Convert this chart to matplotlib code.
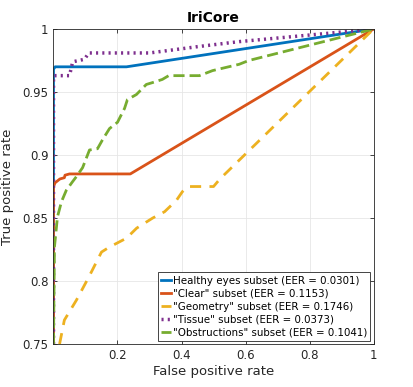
import matplotlib
matplotlib.use("Agg")
import matplotlib.pyplot as plt

# Data
healthy_fpr = [0.0, 0.0, 0.005, 0.228, 1.0]
healthy_tpr = [0.75, 0.968, 0.970, 0.970, 1.0]

clear_fpr = [0.0, 0.0, 0.005, 0.02, 0.034, 0.036, 0.05, 0.24, 1.0]
clear_tpr = [0.75, 0.875, 0.878, 0.881, 0.882, 0.884, 0.885, 0.885, 1.0]

geometry_fpr = [0.019, 0.034, 0.072, 0.11, 0.15, 0.175, 0.228, 0.26, 0.31, 0.347,
                0.384, 0.403, 0.42, 0.50, 0.52, 1.0]
geometry_tpr = [0.75, 0.769, 0.785, 0.803, 0.823, 0.827, 0.834, 0.842, 0.85, 0.855,
                0.864, 0.871, 0.875, 0.875, 0.881, 1.0]

tissue_fpr = [0.0, 0.0, 0.003, 0.05, 0.06, 0.097, 0.11, 0.30, 0.45, 0.58, 1.0]
tissue_tpr = [0.75, 0.962, 0.963, 0.963, 0.974, 0.976, 0.981, 0.981, 0.986, 0.990, 1.0]

obstr_fpr = [0.0, 0.003, 0.0125, 0.025, 0.04, 0.06, 0.072, 0.091, 0.1125, 0.1375,
             0.153, 0.175, 0.2, 0.222, 0.231, 0.259, 0.29, 0.316, 0.34, 0.36,
             0.456, 0.497, 0.58, 0.61, 1.0]
obstr_tpr = [0.75, 0.827, 0.851, 0.863, 0.872, 0.879, 0.883, 0.89, 0.904, 0.905,
             0.912, 0.921, 0.926, 0.937, 0.944, 0.948, 0.956, 0.958, 0.96, 0.963,
             0.963, 0.967, 0.972, 0.975, 1.0]

labels = ['Healthy eyes subset (EER = 0.0301)',
          '"Clear" subset (EER = 0.1153)',
          '"Geometry" subset (EER = 0.1746)',
          '"Tissue" subset (EER = 0.0373)',
          '"Obstructions" subset (EER = 0.1041)']

x_ticks = [0.2, 0.4, 0.6, 0.8, 1.0]
x_ticklabels = ['0.2', '0.4', '0.6', '0.8', '1']
y_ticks = [0.75, 0.8, 0.85, 0.9, 0.95, 1.0]
y_ticklabels = ['0.75', '0.8', '0.85', '0.9', '0.95', '1']

colors = ['#0072BD', '#D95319', '#EDB120', '#7E2F8E', '#77AC30']

plt.rcParams['font.family'] = ['DejaVu Sans']
fig = plt.figure(figsize=(4.13, 3.87), dpi=100)
ax = fig.add_axes([0.1295, 0.111, 0.775, 0.814])

lw = 2.0
ax.plot(healthy_fpr, healthy_tpr, color=colors[0], lw=lw, label=labels[0])
ax.plot(clear_fpr, clear_tpr, color=colors[1], lw=lw, label=labels[1])
ax.plot(geometry_fpr, geometry_tpr, color=colors[2], lw=lw, ls=(0, (4, 3)), label=labels[2])
ax.plot(tissue_fpr, tissue_tpr, color=colors[3], lw=lw + 0.5, ls=(0, (0.6, 1.2)), label=labels[3])
ax.plot(obstr_fpr, obstr_tpr, color=colors[4], lw=lw, ls=(0, (4, 1.8)), label=labels[4])

ax.set_xlim(0, 1)
ax.set_ylim(0.75, 1)
ax.set_xticks(x_ticks)
ax.set_xticklabels(x_ticklabels)
ax.set_yticks(y_ticks)
ax.set_yticklabels(y_ticklabels)
ax.tick_params(direction='in', length=3, labelsize=8.5, colors='#262626',
               top=True, right=True, width=0.6)
ax.grid(True, color='#e6e6e6', lw=0.6)
ax.set_axisbelow(True)
for s in ax.spines.values():
    s.set_color('#262626')
    s.set_linewidth(0.6)

ax.set_title('IriCore', fontsize=10, fontweight='bold', pad=5)
ax.set_xlabel('False positive rate', fontsize=9.5, color='#262626', labelpad=2)
ax.set_ylabel('True positive rate', fontsize=9.5, color='#262626', labelpad=6)

leg = ax.legend(loc='lower right', fontsize=7.4, handlelength=1.0, handletextpad=0.2,
                borderpad=0.3, labelspacing=0.3, borderaxespad=0.3,
                fancybox=False, framealpha=1, edgecolor='#262626')
leg.get_frame().set_linewidth(0.6)

fig.savefig('out.png', dpi=100)
